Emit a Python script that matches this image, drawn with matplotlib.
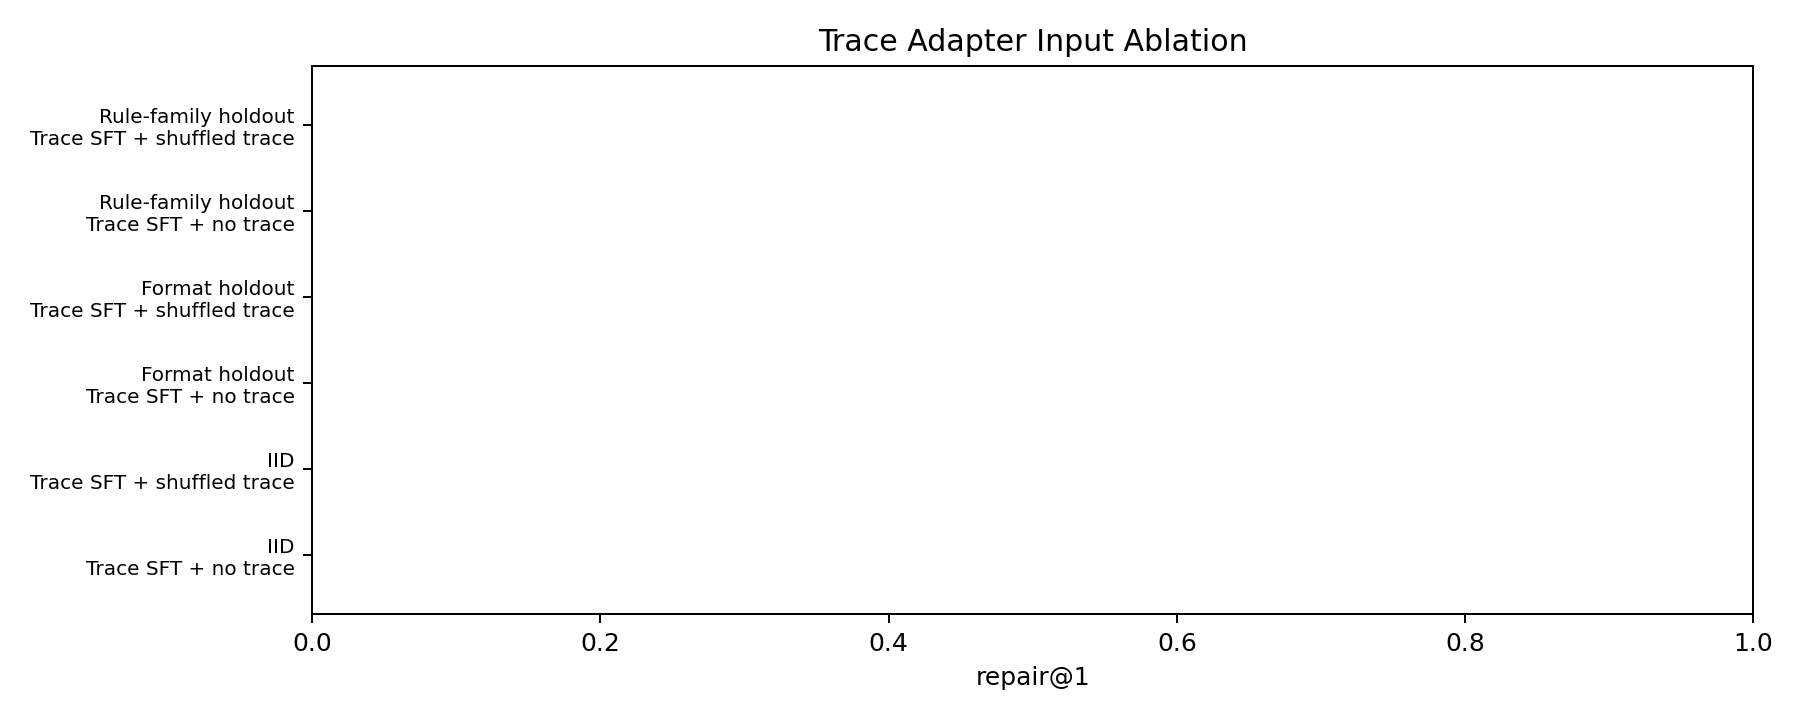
import matplotlib
matplotlib.use("Agg")
import matplotlib.pyplot as plt

# rows from bottom to top
splits = ["IID", "IID", "Format holdout", "Format holdout",
          "Rule-family holdout", "Rule-family holdout"]
variants = ["Trace SFT + no trace", "Trace SFT + shuffled trace",
            "Trace SFT + no trace", "Trace SFT + shuffled trace",
            "Trace SFT + no trace", "Trace SFT + shuffled trace"]
repair_at_1 = [0.0, 0.0, 0.0, 0.0, 0.0, 0.0]

labels = [s + "\n" + v for s, v in zip(splits, variants)]

fig, ax = plt.subplots(figsize=(10, 4), dpi=180)
fig.subplots_adjust(left=0.1735, right=0.974, top=0.909, bottom=0.147)

ax.barh(range(len(labels)), repair_at_1, color="#4c72b0")
ax.set_yticks(range(len(labels)))
ax.set_yticklabels(labels, fontsize=8)
ax.set_xlim(0, 1)
ax.set_xlabel("repair@1")
ax.set_title("Trace Adapter Input Ablation", fontsize=12)

fig.savefig("out.png")
